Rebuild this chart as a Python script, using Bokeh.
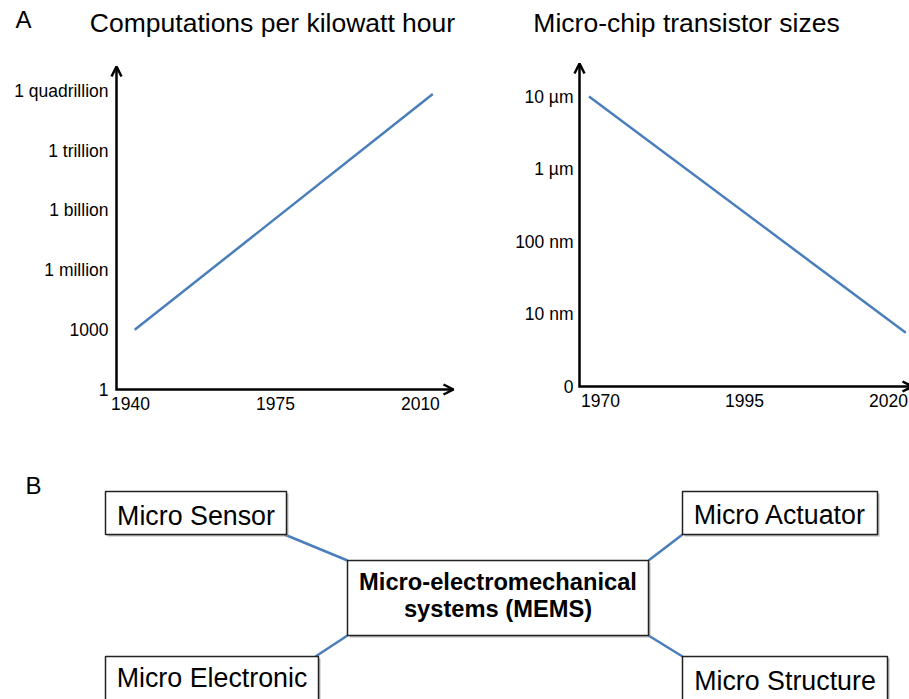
from bokeh.plotting import figure
from bokeh.layouts import column, row
from bokeh.models import Range1d, Arrow, OpenHead, Label
from bokeh.embed import file_html
from bokeh.resources import INLINE
from bokeh.core.properties import value

# ---------------- data ----------------
comp_title = "Computations per kilowatt hour"
comp_years = [1941, 2013]
comp_values = [1e3, 7e14]
comp_xticks = [1940, 1975, 2010]
comp_yticks = [1, 1e3, 1e6, 1e9, 1e12, 1e15]
comp_ylabels = ["1", "1000", "1 million", "1 billion", "1 trillion", "1 quadrillion"]

chip_title = "Micro-chip transistor sizes"
chip_years = [1968, 2023]
chip_sizes_nm = [10000, 5.5]
chip_xticks = [1970, 1995, 2020]
chip_yticks = [1, 10, 100, 1000, 10000]
chip_ylabels = ["0", "10 nm", "100 nm", "1 µm", "10 µm"]

mems_center = "Micro-electromechanical\nsystems (MEMS)"
mems_parts = ["Micro Sensor", "Micro Electronic", "Micro Actuator", "Micro Structure"]
panel_letters = ["A", "B"]

# ---------------- styles / layout ----------------
FONT = "Liberation Sans"
BLUE = "#4a7ebb"
AX_W = 2.5
TICK_FS = "17.5px"
TITLE_FS = "26.5px"
LETTER_FS = "24px"


def make_chart(fig_w, fig_h, origin, x0, ppy, ppd, x_tip, y_tip_exp,
               xticks, yticks, ylabels, ygap, xs, ys, title, title_xy,
               letter=None, letter_xy=None):
    ox, oy = origin
    x_span = (x0 - ox / ppy, x0 + (fig_w - ox) / ppy)
    y_span = (10 ** (-(fig_h - oy) / ppd), 10 ** (oy / ppd))
    p = figure(width=fig_w, height=fig_h, x_range=Range1d(*x_span),
               y_range=Range1d(*y_span), y_axis_type="log",
               x_axis_location=None, y_axis_location=None,
               output_backend="svg", toolbar_location=None, title=None, min_border=0)
    p.outline_line_color = None
    p.grid.visible = False
    p.background_fill_color = "white"
    p.border_fill_color = "white"

    # data line
    p.line(xs, ys, line_color=BLUE, line_width=2.5)

    # axes (L shape) with open arrow heads
    y_tip = 10 ** y_tip_exp
    p.line([x0, x0, x_tip], [y_tip, 1, 1], line_color="black", line_width=AX_W,
           line_join="miter")
    p.add_layout(Arrow(end=OpenHead(size=10, line_width=AX_W, line_color="black"),
                       x_start=x0, y_start=y_tip / 10, x_end=x0, y_end=y_tip,
                       line_alpha=0))
    p.add_layout(Arrow(end=OpenHead(size=10, line_width=AX_W, line_color="black"),
                       x_start=x_tip - 5, y_start=1, x_end=x_tip, y_end=1,
                       line_alpha=0))

    # tick labels
    p.text(x=[x0] * len(yticks), y=yticks, text=ylabels, text_align="right",
           text_baseline="middle", x_offset=-ygap, text_font=value(FONT),
           text_font_size=value(TICK_FS), text_color="black")
    p.text(x=xticks, y=[1] * len(xticks), text=[str(t) for t in xticks],
           text_align="center", text_baseline="middle", y_offset=14,
           text_font=value(FONT), text_font_size=value(TICK_FS), text_color="black")

    p.add_layout(Label(x=title_xy[0], y=title_xy[1], x_units="screen", y_units="screen",
                       text=title, text_align="center", text_baseline="middle",
                       text_font=FONT, text_font_size=TITLE_FS, text_color="black"))
    if letter:
        p.add_layout(Label(x=letter_xy[0], y=letter_xy[1], x_units="screen", y_units="screen",
                           text=letter, text_align="left", text_baseline="middle",
                           text_font=FONT, text_font_size=LETTER_FS, text_color="black"))
    return p


H_TOP = 440
p1 = make_chart(462, H_TOP, (116, 389), 1936.6, 4.14, 19.9, 2018.0, 16.23,
                comp_xticks, comp_yticks, comp_ylabels, 8, comp_years, comp_values,
                comp_title, (272, H_TOP - 22.2), panel_letters[0], (15, H_TOP - 19))

p2 = make_chart(447, H_TOP, (117, 386), 1966.35, 5.76, 72.5, 2024.16, 4.455,
                chip_xticks, chip_yticks, chip_ylabels, 6, chip_years, chip_sizes_nm,
                chip_title, (224, H_TOP - 22.5))

# ---------------- diagram ----------------
W3, H3 = 909, 259
p3 = figure(width=W3, height=H3, x_range=Range1d(0, W3), y_range=Range1d(H3, 0),
            x_axis_location=None, y_axis_location=None, output_backend="svg",
            toolbar_location=None, title=None, min_border=0)
p3.outline_line_color = None
p3.grid.visible = False
p3.background_fill_color = "white"
p3.border_fill_color = "white"

# box layout: (left, top, right, bottom), text centre offset from box top
part_boxes = [(105, 51, 286, 94), (105, 216, 318, 264), (682, 51, 877, 94), (682, 216, 887, 264)]
part_text_dy = [24, 21.5, 23, 24]
mems_box = (347, 120, 648, 195)

ml, mt, mr, mb = mems_box
part_corner = [(part_boxes[0][2] - 2, part_boxes[0][3]), (part_boxes[1][2] - 3, part_boxes[1][1]),
               (part_boxes[2][0], part_boxes[2][3]), (part_boxes[3][0], part_boxes[3][1])]
mems_corner = [(ml, mt), (ml, mb), (mr, mt), (mr, mb)]
p3.segment(x0=[c[0] for c in part_corner], y0=[c[1] for c in part_corner],
           x1=[c[0] for c in mems_corner], y1=[c[1] for c in mems_corner],
           line_color=BLUE, line_width=2.5)

all_boxes = part_boxes + [mems_box]
SH = 2.0
p3.quad(left=[b[0] + SH for b in all_boxes], right=[b[2] + SH for b in all_boxes],
        top=[b[1] + SH for b in all_boxes], bottom=[b[3] + SH for b in all_boxes],
        fill_color="#8a8a8a", fill_alpha=0.6, line_color=None)
p3.quad(left=[b[0] for b in all_boxes], right=[b[2] for b in all_boxes],
        top=[b[1] for b in all_boxes], bottom=[b[3] for b in all_boxes],
        fill_color="white", line_color="#222222", line_width=1.5)

p3.text(x=[(b[0] + b[2]) / 2 for b in part_boxes],
        y=[b[1] + d for b, d in zip(part_boxes, part_text_dy)],
        text=mems_parts, text_align="center", text_baseline="middle",
        text_font=value(FONT), text_font_size=value("26.8px"), text_color="black")

mems_lines = mems_center.split("\n")
mcy = (mt + mb) / 2 - 2.75
p3.text(x=[(ml + mr) / 2] * len(mems_lines),
        y=[mcy + (i - (len(mems_lines) - 1) / 2) * 27.5 for i in range(len(mems_lines))],
        text=mems_lines, text_align="center", text_baseline="middle",
        text_font=value(FONT), text_font_size=value("23.7px"), text_font_style="bold",
        text_color="black")

p3.text(x=[25], y=[44.5], text=[panel_letters[1]], text_align="left", text_baseline="middle",
        text_font=value(FONT), text_font_size=value(LETTER_FS), text_color="black")

layout = column(row(p1, p2), p3)
open("out.html", "w").write(file_html(layout, INLINE))
